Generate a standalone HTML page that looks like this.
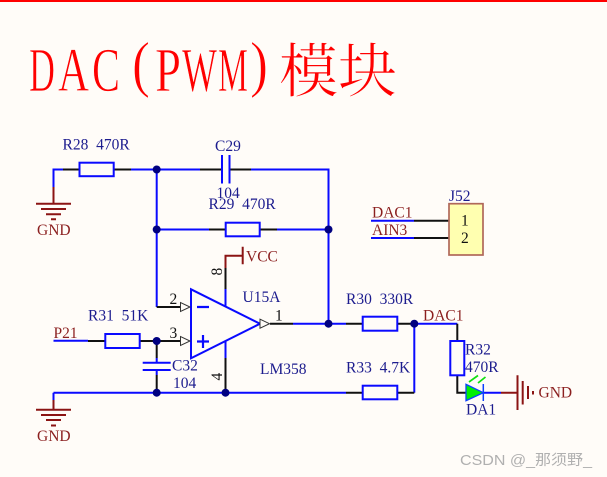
<!DOCTYPE html>
<html><head><meta charset="utf-8">
<style>
html,body{margin:0;padding:0;background:#fffcf8;}
svg{display:block;}
text{font-family:"Liberation Serif","Noto Serif CJK SC",serif;font-size:15.5px;white-space:pre;}
.n{fill:#1c1c8e;}
.r{fill:#8b1f1f;}
.k{fill:#111;}
.t{fill:#f00;font-size:62px;stroke:#fffcf8;stroke-width:.7px;}
.b{stroke:#0a0aff;stroke-width:2;fill:none;}
.k1{stroke:#111;stroke-width:2;fill:none;}
.d{stroke:#8b1414;stroke-width:2;fill:none;}
.dot{fill:#000080;}
</style></head><body>
<svg width="607" height="477" viewBox="0 0 607 477" xmlns="http://www.w3.org/2000/svg">
<rect width="607" height="477" fill="#fffcf8"/>
<rect width="607" height="2" fill="#f00"/>

<!-- Title -->
<text class="t" x="29" y="91" textLength="26" lengthAdjust="spacingAndGlyphs">D</text>
<text class="t" x="58" y="91" textLength="31" lengthAdjust="spacingAndGlyphs">A</text>
<text class="t" x="92" y="91" textLength="28" lengthAdjust="spacingAndGlyphs">C</text>
<text class="t" x="132" y="85" textLength="18" lengthAdjust="spacingAndGlyphs">(</text>
<text class="t" x="155" y="91" textLength="26" lengthAdjust="spacingAndGlyphs">P</text>
<text class="t" x="182" y="91" textLength="35" lengthAdjust="spacingAndGlyphs">W</text>
<text class="t" x="218" y="91" textLength="30" lengthAdjust="spacingAndGlyphs">M</text>
<text class="t" x="250" y="85" textLength="18" lengthAdjust="spacingAndGlyphs">)</text>
<text class="t" x="279" y="92" style="font-size:59px;font-family:'Noto Serif CJK SC',serif;stroke-width:.6px">模块</text>

<!-- Blue wires -->
<path class="b" d="M63 169.5H53.5V187"/>
<path class="b" d="M131 169.5H200M251 169.5H328.5V323.7M293 323.7H346"/>
<path class="b" d="M156.7 169.5V307"/>
<path class="b" d="M156.7 229.5H209M277 229.5H328.5"/>
<path class="b" d="M53.5 340.7H88"/>
<path class="b" d="M53.5 392.7H346M53.5 392.7V400"/>
<path class="b" d="M414.3 323.7V392.7M414.3 323.7H457.3"/>
<path class="b" d="M371 220.7H414M371 238H414"/>
<path class="b" d="M225.5 289V306M225.5 341V358"/>
<path class="b" d="M156.7 358V362.7M156.7 370V375"/>
<path class="b" d="M483 392.7H501"/>

<!-- Black wires -->
<path class="k1" d="M63 169.5H79.5M114 169.5H131M200 169.5H222M229.5 169.5H251"/>
<path class="k1" d="M209 229.5H226M260 229.5H277"/>
<path class="k1" d="M225.5 268V289M225.5 358V392.7"/>
<path class="k1" d="M156.7 307H180M140 341H180M88 341H105"/>
<path class="k1" d="M156.7 341V358M156.7 375V392.7"/>
<path class="k1" d="M270 323.7H293M346 323.7H363M397 323.7H414"/>
<path class="k1" d="M346 392.7H363M397 392.7H414.3"/>
<path class="k1" d="M457.3 323.7V341M457.3 375V392.7H466"/>
<path class="k1" d="M414 220.7H449M414 238H449"/>

<!-- Resistors -->
<g fill="#fffcf8" stroke="#0a0aff" stroke-width="2">
<rect x="79.5" y="162.7" width="34.2" height="13.5"/>
<rect x="225.7" y="222.7" width="34" height="13.6"/>
<rect x="105.3" y="334" width="34.4" height="14"/>
<rect x="362.7" y="316.7" width="34.6" height="14"/>
<rect x="362.7" y="385.7" width="34.6" height="13.6"/>
<rect x="450.3" y="341" width="14" height="34.3"/>
</g>

<!-- Capacitors -->
<path class="b" d="M222 155V183.5M229.5 155V183.5"/>
<path class="b" d="M142.7 362.7H170.7M142.7 370H170.7"/>

<!-- Op amp -->
<path d="M191 289.3V358.3L260 323.7Z" fill="#fffcf8" stroke="#0a0aff" stroke-width="2"/>
<path class="b" d="M197 307H209M197 341.5H209M203 335V348" style="stroke-width:2.2"/>
<path d="M180.5 302.5V311.5L190 307ZM180.5 336.5V345.5L190 341ZM260 319.2V328.2L269.5 323.7Z" fill="#fffcf8" stroke="#333" stroke-width="1"/>

<!-- VCC -->
<path class="d" d="M225.5 268V255.7H242.7M242.7 246.7V264.3"/>

<!-- Ground top -->
<path class="d" d="M53.5 187V204M36 203.7H71M41 209H66M46 214.3H61M51 219.3H56"/>
<!-- Ground bottom -->
<path class="d" d="M53.5 400V410M36 409.7H71M41 415H66M46 420H61M51 425.5H56"/>
<!-- Ground right -->
<path class="d" d="M501 392.7H517.5M517.5 375.3V410M522.7 381V404.5M528 386V399M533 391V394.5"/>

<!-- LED -->
<path d="M466 384.3V400.7L483.3 392.7Z" fill="#00f000" stroke="#0a40ff" stroke-width="1.3"/>
<path d="M483.3 384V401" stroke="#0a40ff" stroke-width="1.5"/>
<path d="M469 382L478 375.5M478 383L485.5 377" stroke="#10e010" stroke-width="1.7"/>

<!-- Connector -->
<rect x="449" y="203.7" width="34" height="51.3" fill="#ffffb0" stroke="#b0685a" stroke-width="1.7"/>

<!-- Junctions -->
<g class="dot">
<circle cx="156.7" cy="169.5" r="4"/>
<circle cx="156.7" cy="229.5" r="4"/>
<circle cx="328.5" cy="229.5" r="4"/>
<circle cx="156.7" cy="341" r="4"/>
<circle cx="156.7" cy="392.7" r="4"/>
<circle cx="225.5" cy="392.7" r="4"/>
<circle cx="328.5" cy="323.7" r="4"/>
<circle cx="414.3" cy="323.7" r="4"/>
</g>

<!-- Labels -->
<text class="n" x="62.5" y="149.5">R28  470R</text>
<text class="n" x="215" y="151">C29</text>
<text class="n" x="216.5" y="198">104</text>
<text class="n" x="208.5" y="209">R29  470R</text>
<text class="r" x="37" y="235">GND</text>
<text class="r" x="246" y="261.5">VCC</text>
<text class="n" x="242.5" y="302">U15A</text>
<text class="n" x="88" y="320.5">R31  51K</text>
<text class="r" x="53.5" y="338">P21</text>
<text class="n" x="172" y="370.5">C32</text>
<text class="n" x="173" y="388">104</text>
<text class="n" x="260" y="374">LM358</text>
<text class="r" x="37" y="441">GND</text>
<text class="n" x="346" y="304">R30  330R</text>
<text class="n" x="346" y="372.3">R33  4.7K</text>
<text class="r" x="423" y="320.5">DAC1</text>
<text class="n" x="465" y="354.7">R32</text>
<text class="n" x="465" y="372">470R</text>
<text class="n" x="466" y="414.7">DA1</text>
<text class="r" x="538.5" y="397.7">GND</text>
<text class="n" x="449" y="201">J52</text>
<text class="r" x="372" y="217.7">DAC1</text>
<text class="r" x="372" y="235">AIN3</text>
<text class="k" x="461" y="225.7">1</text>
<text class="k" x="461" y="243">2</text>
<text class="k" x="169.5" y="304">2</text>
<text class="k" x="169.5" y="338">3</text>
<text class="k" x="275" y="320.7">1</text>
<text class="k" transform="translate(222,275.5) rotate(-90)">8</text>
<text class="k" transform="translate(222,380.5) rotate(-90)">4</text>

<!-- Watermark -->
<text x="460" y="465" fill="#b0b0b0" textLength="132" lengthAdjust="spacingAndGlyphs" style="font-family:'Liberation Sans','Noto Sans CJK SC',sans-serif;font-size:14.5px">CSDN @_那须野_</text>
</svg>
</body></html>
